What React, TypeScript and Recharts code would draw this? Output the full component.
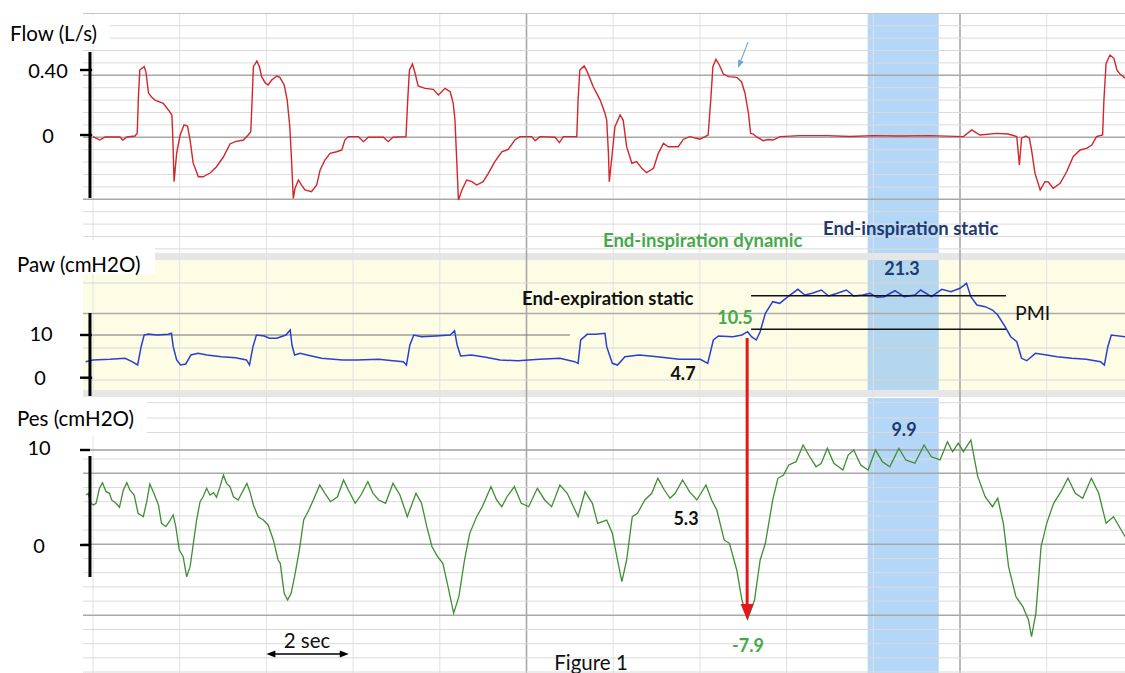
import React from 'react';
import { ComposedChart, Line, XAxis, YAxis, ReferenceLine, ReferenceArea } from 'recharts';

// ---------- layout calibration ----------
const W = 1125;
const H = 673;
const X_ORIGIN = 93; // pixel where t = 0 s
const PX_PER_SEC = 43.35;
const T_MIN = -X_ORIGIN / PX_PER_SEC;
const T_MAX = (W - X_ORIGIN) / PX_PER_SEC;
const tOf = (px: number) => (px - X_ORIGIN) / PX_PER_SEC;

// value -> pixel calibration of each panel (zero line pixel, pixels per unit)
const FLOW_ZERO = 135, FLOW_PX = 162.5;
const PAW_ZERO = 377.7, PAW_PX = 4.27;
const PES_ZERO = 545, PES_PX = 9.5;
const dom = (zero: number, px: number): [number, number] => [(zero - H) / px, zero / px];

// ---------- data: [time s, value] ----------
const flowSamples: [number, number][] = [
  [0.00,-0.010],[0.16,-0.031],[0.28,-0.012],[0.62,-0.012],[0.69,-0.031],[0.78,-0.012],[0.97,-0.006],[1.02,0.012],[1.05,0.246],[1.08,0.400],[1.18,0.420],[1.22,0.390],[1.28,0.258],[1.35,0.234],[1.43,0.215],[1.62,0.195],[1.74,0.154],[1.82,0.123],[1.84,-0.010],[1.87,-0.287],[1.93,-0.111],[2.01,0.000],[2.10,0.062],[2.18,0.055],[2.24,-0.031],[2.31,-0.172],[2.43,-0.257],[2.54,-0.257],[2.70,-0.234],[2.85,-0.195],[3.01,-0.134],[3.16,-0.055],[3.28,-0.041],[3.47,-0.031],[3.58,0.000],[3.64,0.020],[3.67,0.215],[3.70,0.420],[3.78,0.455],[3.84,0.420],[3.89,0.359],[3.97,0.322],[4.04,0.308],[4.12,0.338],[4.24,0.363],[4.31,0.355],[4.41,0.308],[4.48,0.215],[4.54,0.051],[4.58,-0.154],[4.62,-0.390],[4.66,-0.328],[4.74,-0.277],[4.81,-0.308],[4.89,-0.338],[5.04,-0.349],[5.16,-0.308],[5.24,-0.215],[5.35,-0.154],[5.47,-0.113],[5.62,-0.103],[5.74,-0.092],[5.81,-0.031],[5.89,-0.010],[6.12,-0.010],[6.24,-0.041],[6.35,-0.014],[6.70,-0.014],[6.81,-0.041],[6.92,-0.014],[7.22,-0.010],[7.26,0.215],[7.30,0.400],[7.37,0.437],[7.43,0.380],[7.50,0.302],[7.66,0.287],[7.85,0.281],[7.97,0.246],[8.12,0.287],[8.24,0.266],[8.31,0.195],[8.35,0.092],[8.39,-0.154],[8.43,-0.400],[8.51,-0.338],[8.62,-0.277],[8.74,-0.287],[8.85,-0.308],[9.00,-0.287],[9.12,-0.236],[9.27,-0.164],[9.43,-0.103],[9.58,-0.088],[9.73,-0.031],[9.85,-0.010],[10.12,-0.010],[10.20,-0.035],[10.31,-0.010],[10.66,-0.014],[10.76,-0.047],[10.85,-0.010],[11.16,-0.010],[11.19,0.215],[11.23,0.400],[11.33,0.425],[11.40,0.390],[11.54,0.297],[11.70,0.215],[11.81,0.134],[11.85,0.092],[11.89,-0.113],[11.91,-0.287],[11.97,-0.134],[12.04,0.051],[12.16,0.123],[12.23,0.092],[12.31,-0.072],[12.43,-0.174],[12.54,-0.164],[12.66,-0.205],[12.77,-0.232],[12.93,-0.205],[13.04,-0.113],[13.16,-0.051],[13.27,-0.072],[13.50,-0.072],[13.62,-0.026],[13.77,-0.010],[14.00,-0.026],[14.19,0.000],[14.25,0.215],[14.30,0.420],[14.37,0.466],[14.45,0.431],[14.54,0.375],[14.66,0.359],[14.85,0.355],[14.96,0.328],[15.04,0.257],[15.12,0.134],[15.17,0.010],[15.23,0.006],[15.31,-0.012],[15.46,-0.035],[15.57,-0.028],[15.69,-0.031],[15.85,-0.010],[16.31,-0.004],[16.93,-0.004],[17.46,-0.009],[17.99,-0.004],[18.62,-0.006],[19.31,-0.004],[20.08,-0.010],[20.27,0.031],[20.46,0.000],[20.85,0.010],[21.11,0.006],[21.31,-0.010],[21.37,-0.185],[21.42,-0.020],[21.52,-0.006],[21.60,-0.020],[21.65,-0.092],[21.73,-0.236],[21.85,-0.338],[21.96,-0.287],[22.04,-0.289],[22.15,-0.328],[22.31,-0.297],[22.46,-0.226],[22.61,-0.134],[22.77,-0.092],[22.92,-0.082],[23.04,-0.062],[23.15,-0.010],[23.29,0.000],[23.32,0.215],[23.37,0.441],[23.46,0.492],[23.55,0.472],[23.62,0.400],[23.69,0.375],[23.81,0.349],
];

const pawSamples: [number, number][] = [
  [-0.17,3.75],[0.00,4.15],[0.39,4.31],[0.74,4.54],[0.90,3.75],[1.03,2.97],[1.11,7.26],[1.18,10.0],[1.27,10.23],[1.48,10.0],[1.73,10.16],[1.81,10.40],[1.85,7.26],[1.93,4.15],[2.02,2.97],[2.14,3.21],[2.26,5.32],[2.42,5.71],[2.63,5.32],[2.96,4.92],[3.29,4.68],[3.54,4.15],[3.61,2.97],[3.69,7.26],[3.77,10.0],[3.95,9.77],[4.07,9.23],[4.24,9.23],[4.45,10.0],[4.55,11.17],[4.59,7.66],[4.65,5.32],[4.78,5.71],[4.94,5.32],[5.27,4.54],[5.76,4.15],[6.09,4.15],[6.59,4.31],[6.92,3.98],[7.16,3.75],[7.23,2.97],[7.31,7.66],[7.40,10.0],[7.58,9.60],[7.91,9.77],[8.24,10.0],[8.34,11.01],[8.40,7.66],[8.48,5.08],[8.73,5.32],[9.06,4.78],[9.39,4.15],[9.80,3.98],[10.30,4.31],[10.77,4.54],[11.11,3.75],[11.19,3.37],[11.25,8.83],[11.40,10.16],[11.60,10.16],[11.81,10.40],[11.85,7.26],[11.98,3.37],[12.10,2.97],[12.27,4.92],[12.60,5.32],[13.02,4.92],[13.52,4.31],[14.01,4.31],[14.18,3.37],[14.31,8.83],[14.43,9.77],[14.76,9.60],[14.97,10.0],[15.10,10.77],[15.19,9.60],[15.30,8.83],[15.39,10.77],[15.51,15.08],[15.68,17.80],[15.84,17.42],[16.01,18.83],[16.26,20.70],[16.42,19.37],[16.59,19.77],[16.80,20.54],[16.97,19.13],[17.17,19.77],[17.38,20.54],[17.55,19.13],[17.76,19.37],[17.92,19.77],[18.09,18.83],[18.25,18.97],[18.50,20.37],[18.71,18.97],[18.96,19.37],[19.09,20.54],[19.34,18.97],[19.58,20.70],[19.79,20.14],[20.00,20.94],[20.15,22.11],[20.25,18.97],[20.39,17.03],[20.58,16.63],[20.75,15.85],[20.87,14.68],[21.04,11.94],[21.17,9.60],[21.31,8.43],[21.42,4.54],[21.54,3.98],[21.74,5.71],[22.00,5.32],[22.24,4.92],[22.58,4.54],[22.91,4.31],[23.24,3.75],[23.33,2.97],[23.41,7.26],[23.49,10.0],[23.81,9.6],
];

const pesSamples: [number, number][] = [
  [-0.16,5.26],[-0.11,5.44],[-0.05,4.39],[0.01,4.21],[0.07,4.39],[0.15,5.97],[0.22,6.56],[0.30,5.61],[0.38,5.44],[0.43,4.74],[0.53,4.39],[0.61,3.97],[0.70,5.79],[0.78,6.56],[0.85,5.79],[0.95,5.26],[1.04,3.34],[1.16,2.98],[1.24,4.56],[1.31,6.42],[1.39,5.61],[1.51,4.21],[1.58,2.28],[1.68,1.93],[1.76,2.45],[1.85,3.16],[1.91,1.93],[1.99,-0.53],[2.08,-1.23],[2.16,-3.34],[2.24,-2.28],[2.31,0.00],[2.39,2.63],[2.47,4.56],[2.54,5.08],[2.62,5.97],[2.70,5.26],[2.78,5.51],[2.85,5.02],[2.93,6.14],[3.01,7.37],[3.08,6.49],[3.16,6.14],[3.24,5.08],[3.35,4.74],[3.43,5.44],[3.55,6.49],[3.62,5.61],[3.70,4.21],[3.81,2.98],[3.93,2.63],[4.04,2.11],[4.16,0.53],[4.27,-1.58],[4.32,-1.93],[4.41,-5.08],[4.49,-5.79],[4.57,-5.08],[4.65,-3.34],[4.76,-0.53],[4.86,2.63],[4.98,3.68],[5.10,4.92],[5.23,6.32],[5.35,5.44],[5.48,4.56],[5.64,5.08],[5.78,6.84],[5.89,5.79],[6.05,4.39],[6.18,5.26],[6.34,6.66],[6.46,5.44],[6.59,4.74],[6.75,4.39],[6.92,6.49],[7.08,5.26],[7.25,2.98],[7.45,5.44],[7.58,4.39],[7.70,1.93],[7.82,-0.18],[7.95,-1.23],[8.07,-1.93],[8.19,-4.39],[8.32,-7.19],[8.44,-5.44],[8.57,-1.58],[8.69,1.23],[8.85,2.98],[8.98,4.03],[9.18,6.14],[9.31,4.74],[9.43,4.03],[9.55,5.08],[9.72,6.14],[9.88,4.39],[10.05,4.03],[10.25,5.97],[10.42,4.74],[10.58,4.03],[10.77,6.32],[10.94,5.44],[11.19,2.98],[11.35,5.61],[11.52,4.39],[11.64,2.28],[11.85,2.63],[11.98,1.23],[12.10,-1.58],[12.20,-3.86],[12.31,-1.58],[12.44,2.98],[12.56,3.34],[12.73,4.74],[12.89,5.44],[13.03,7.02],[13.18,5.79],[13.31,4.92],[13.43,5.44],[13.60,6.84],[13.76,5.61],[13.93,4.74],[14.14,6.32],[14.27,4.74],[14.39,3.68],[14.56,0.53],[14.68,0.18],[14.85,-2.63],[14.97,-5.79],[15.10,-7.8],[15.26,-5.79],[15.39,-1.58],[15.51,0.18],[15.68,4.74],[15.80,7.02],[15.93,7.37],[16.05,8.42],[16.22,8.77],[16.38,10.53],[16.51,9.47],[16.68,8.24],[16.80,8.60],[16.94,10.18],[17.09,8.60],[17.30,7.89],[17.42,9.47],[17.55,10.00],[17.71,8.42],[17.88,7.89],[18.05,10.00],[18.21,8.77],[18.38,8.24],[18.59,10.18],[18.75,8.95],[18.96,8.60],[19.17,10.53],[19.34,9.29],[19.54,8.95],[19.71,10.87],[19.83,9.82],[19.96,10.71],[20.08,9.82],[20.25,11.05],[20.41,7.19],[20.58,5.08],[20.75,4.03],[20.87,4.92],[21.00,2.28],[21.12,-2.28],[21.29,-5.44],[21.45,-6.49],[21.58,-7.89],[21.65,-9.65],[21.75,-7.19],[21.87,-0.18],[22.00,2.28],[22.16,4.39],[22.33,5.61],[22.49,7.02],[22.66,5.44],[22.83,4.92],[23.03,7.02],[23.20,5.44],[23.37,2.28],[23.54,2.98],[23.81,0.87],
];

// tick values
const flowTicks = [0, 0.4];
const pawTicks = [0, 10];
const pesTicks = [0, 10];
const timeGrid = [0, 2, 4, 6, 8, 10, 12, 14, 16, 18, 20, 22];
const timeGridMajor = [10, 20];

// annotation values
const staticWindow: [number, number] = [17.87, 19.51]; // s, shaded blue band
const pmiTime: [number, number] = [15.18, 21.06];
const pmiLevels = [19.2, 11.33]; // cmH2O
const arrowTime = 15.09;
const pesNadir = -7.9;

// ---------- background sheet rows (pixels) ----------
const SHEET_TOP = 13.5;
const GRID_LEFT = 83;
const flowRowsLight = [25.7, 38.1, 50.5, 62.9, 87.7, 100.1, 112.5, 124.9, 149.7, 162.1, 174.5, 186.9, 211.7, 224.1, 236.5, 248.9];
const flowRowsDark = [75.3, 137.3, 199.3];
const pawRowsLight = [283, 348, 380];
const pawRowsDark = [313.5];
const pesRowsLight = [402.7, 418, 432.5, 459, 487.5, 501.7, 515.9, 530.1, 558.5, 572.7, 586.9, 601.1, 629.5, 643.7, 657.9, 672];
const pesRowsDark = [473.3, 544.3, 615.3];

const toObj = (arr: [number, number][]) => arr.map(([t, v]) => ({ t, v }));
const flowData = toObj(flowSamples);
const pawData = toObj(pawSamples);
const pesData = toObj(pesSamples);

const FONT = "Lato, 'Open Sans', sans-serif";

const makeArrow = (color: string, width: number, headLen: number, headW: number, both = false) => (p: any) => {
  const { x1, y1, x2, y2 } = p;
  const dx = x2 - x1, dy = y2 - y1;
  const len = Math.hypot(dx, dy) || 1;
  const ux = dx / len, uy = dy / len;
  const nx = -uy, ny = ux;
  const head = (tx: number, ty: number, dirx: number, diry: number) => {
    const bx = tx - dirx * headLen, by = ty - diry * headLen;
    return `${tx},${ty} ${bx + nx * headW / 2},${by + ny * headW / 2} ${bx - nx * headW / 2},${by - ny * headW / 2}`;
  };
  const sx = both ? x1 + ux * headLen * 0.8 : x1, sy = both ? y1 + uy * headLen * 0.8 : y1;
  const ex = x2 - ux * headLen * 0.8, ey = y2 - uy * headLen * 0.8;
  return (
    <g>
      <line x1={sx} y1={sy} x2={ex} y2={ey} stroke={color} strokeWidth={width} />
      <polygon points={head(x2, y2, ux, uy)} fill={color} />
      {both && <polygon points={head(x1, y1, -ux, -uy)} fill={color} />}
    </g>
  );
};

const hLine = (key: string, y: number, color: string, w: number, fromPx = GRID_LEFT) => (
  <ReferenceLine key={key} yAxisId="sheet" segment={[{ x: tOf(fromPx), y }, { x: T_MAX, y }]} stroke={color} strokeWidth={w} ifOverflow="visible" />
);

export default function App() {
  const greenTxt = '#45A94A';
  const navyTxt = '#1F3A6E';
  return (
    <div style={{ position: 'absolute', left: 0, top: 0, width: W, height: H, background: '#fff', fontFamily: FONT }}>
      <ComposedChart width={W} height={H} margin={{ top: 0, right: 0, bottom: 0, left: 0 }}>
        <XAxis type="number" dataKey="t" domain={[T_MIN, T_MAX]} allowDataOverflow hide />
        <YAxis yAxisId="sheet" type="number" domain={[0, H]} reversed allowDataOverflow hide />
        <YAxis yAxisId="flow" type="number" domain={dom(FLOW_ZERO, FLOW_PX)} allowDataOverflow hide />
        <YAxis yAxisId="paw" type="number" domain={dom(PAW_ZERO, PAW_PX)} allowDataOverflow hide />
        <YAxis yAxisId="pes" type="number" domain={dom(PES_ZERO, PES_PX)} allowDataOverflow hide />

        {/* panel bands */}
        <ReferenceArea yAxisId="sheet" x1={tOf(GRID_LEFT)} x2={T_MAX} y1={253} y2={260} fill="#E6E6E6" fillOpacity={1} stroke="none" ifOverflow="visible" />
        <ReferenceArea yAxisId="sheet" x1={tOf(GRID_LEFT)} x2={T_MAX} y1={260} y2={390} fill="#FDFDE6" fillOpacity={1} stroke="none" ifOverflow="visible" />
        <ReferenceArea yAxisId="sheet" x1={tOf(GRID_LEFT)} x2={T_MAX} y1={390} y2={397} fill="#E6E6E6" fillOpacity={1} stroke="none" ifOverflow="visible" />

        {/* background sheet grid */}
        {timeGrid.map((t) => (
          <ReferenceLine key={`vg${t}`} yAxisId="sheet" segment={[{ x: t, y: SHEET_TOP }, { x: t, y: H }]}
            stroke={timeGridMajor.includes(t) ? '#A8A8A8' : '#E2E2E2'} strokeWidth={timeGridMajor.includes(t) ? 1.6 : 1} ifOverflow="visible" />
        ))}
        {hLine('top', SHEET_TOP, '#C4C4C4', 1.2)}
        {flowRowsLight.map((y) => hLine(`fl${y}`, y, '#DADADA', 1))}
        {flowRowsDark.map((y) => hLine(`fd${y}`, y, '#A8A8A8', 1.6))}
        {pawRowsLight.map((y) => hLine(`pl${y}`, y, '#D6D6D6', 1))}
        {pawRowsDark.map((y) => hLine(`pd${y}`, y, '#ABABAB', 1.4))}
        {pesRowsLight.map((y) => hLine(`el${y}`, y, '#DADADA', 1))}
        {pesRowsDark.map((y) => hLine(`ed${y}`, y, '#A8A8A8', 1.6))}

        {/* chart's own level lines */}
        <ReferenceLine yAxisId="paw" segment={[{ x: 0, y: 10 }, { x: 11.0, y: 10 }]} stroke="#707070" strokeWidth={1} ifOverflow="visible" />
        <ReferenceLine yAxisId="pes" segment={[{ x: tOf(GRID_LEFT), y: 10 }, { x: T_MAX, y: 10 }]} stroke="#A0A0A0" strokeWidth={1.3} ifOverflow="visible" />

        {/* waveforms */}
        <Line yAxisId="flow" data={flowData} dataKey="v" type="linear" stroke="#D4252A" strokeWidth={1.4} dot={false} activeDot={false} isAnimationActive={false} />
        <Line yAxisId="paw" data={pawData} dataKey="v" type="linear" stroke="#2B3ED2" strokeWidth={1.5} dot={false} activeDot={false} isAnimationActive={false} />
        <Line yAxisId="pes" data={pesData} dataKey="v" type="linear" stroke="#3E8E33" strokeWidth={1.3} dot={false} activeDot={false} isAnimationActive={false} />

        {/* static window band */}
        <ReferenceArea yAxisId="sheet" x1={staticWindow[0]} x2={staticWindow[1]} y1={SHEET_TOP} y2={253} fill="#8EC1F3" fillOpacity={0.65} stroke="none" ifOverflow="visible" />
        <ReferenceArea yAxisId="sheet" x1={staticWindow[0]} x2={staticWindow[1]} y1={260} y2={390} fill="#8EC1F3" fillOpacity={0.65} stroke="none" ifOverflow="visible" />
        <ReferenceArea yAxisId="sheet" x1={staticWindow[0]} x2={staticWindow[1]} y1={398} y2={H} fill="#8EC1F3" fillOpacity={0.65} stroke="none" ifOverflow="visible" />

        {/* axes (black bars + ticks) */}
        <ReferenceLine yAxisId="flow" segment={[{ x: -0.07, y: 0.511 }, { x: -0.07, y: -0.388 }]} stroke="#000" strokeWidth={3} ifOverflow="visible" />
        {flowTicks.map((v) => (
          <ReferenceLine key={`ft${v}`} yAxisId="flow" segment={[{ x: -0.30, y: v }, { x: -0.02, y: v }]} stroke="#000" strokeWidth={2.4} ifOverflow="visible" />
        ))}
        <ReferenceLine yAxisId="paw" segment={[{ x: -0.07, y: 15.15 }, { x: -0.07, y: -4.29 }]} stroke="#000" strokeWidth={3} ifOverflow="visible" />
        {pawTicks.map((v) => (
          <ReferenceLine key={`pt${v}`} yAxisId="paw" segment={[{ x: -0.30, y: v }, { x: -0.02, y: v }]} stroke="#000" strokeWidth={2.4} ifOverflow="visible" />
        ))}
        <ReferenceLine yAxisId="pes" segment={[{ x: -0.07, y: 9.37 }, { x: -0.07, y: -3.37 }]} stroke="#000" strokeWidth={3} ifOverflow="visible" />
        {pesTicks.map((v) => (
          <ReferenceLine key={`et${v}`} yAxisId="pes" segment={[{ x: -0.30, y: v }, { x: -0.07, y: v }]} stroke="#000" strokeWidth={2.4} ifOverflow="visible" />
        ))}

        {/* PMI lines */}
        {pmiLevels.map((v) => (
          <ReferenceLine key={`pmi${v}`} yAxisId="paw" segment={[{ x: pmiTime[0], y: v }, { x: pmiTime[1], y: v }]} stroke="#111" strokeWidth={1.5} ifOverflow="visible" />
        ))}

        {/* arrows */}
        <ReferenceLine yAxisId="pes" segment={[{ x: arrowTime, y: 21.8 }, { x: arrowTime, y: pesNadir }]} ifOverflow="visible"
          shape={makeArrow('#E3181D', 3, 16, 13)} />
        <ReferenceLine yAxisId="flow" segment={[{ x: 15.11, y: 0.572 }, { x: 14.88, y: 0.412 }]} ifOverflow="visible"
          shape={makeArrow('#6FA6DB', 1.1, 8, 6)} />
        <ReferenceLine yAxisId="pes" segment={[{ x: 4.0, y: -11.47 }, { x: 5.9, y: -11.47 }]} ifOverflow="visible"
          shape={makeArrow('#000', 1.5, 9, 7, true)} />
      </ComposedChart>

      <svg width={W} height={H} style={{ position: 'absolute', left: 0, top: 0, pointerEvents: 'none' }} fontFamily={FONT}>
        {/* label boxes */}
        <rect x={0} y={15} width={110} height={31} fill="#fff" />
        <rect x={0} y={240} width={155} height={34} fill="#fff" />
        <rect x={0} y={398} width={147} height={38} fill="#fff" />

        <g fontSize={20.5} fill="#000" dominantBaseline="central">
          <text x={10} y={33}>Flow (L/s)</text>
          <text x={17} y={264}>Paw (cmH2O)</text>
          <text x={17} y={418}>Pes (cmH2O)</text>
        </g>
        <g fontSize={20} fill="#000" dominantBaseline="central" textAnchor="middle">
          <text x={48} y={70}>0.40</text>
          <text x={48} y={135}>0</text>
          <text x={41} y={333}>10</text>
          <text x={40} y={377}>0</text>
          <text x={39} y={447}>10</text>
          <text x={39} y={545}>0</text>
        </g>

        <g fontWeight={700} fontSize={18.5} dominantBaseline="central">
          <text x={603} y={240} fill={greenTxt}>End-inspiration dynamic</text>
          <text x={823} y={228} fill={navyTxt}>End-inspiration static</text>
          <text x={522} y={298} fill="#111">End-expiration static</text>
        </g>
        <g fontWeight={700} fontSize={18} dominantBaseline="central" textAnchor="middle">
          <text x={902} y={268} fill={navyTxt}>21.3</text>
          <text x={735} y={317} fill={greenTxt}>10.5</text>
          <text x={683} y={373} fill="#111">4.7</text>
          <text x={904} y={429} fill={navyTxt}>9.9</text>
          <text x={686} y={518} fill="#111">5.3</text>
          <text x={748} y={645} fill={greenTxt}>-7.9</text>
        </g>
        <g fill="#111" dominantBaseline="central">
          <text x={1015} y={312} fontSize={19.5}>PMI</text>
          <text x={591} y={662} textAnchor="middle" fontSize={20.5}>Figure 1</text>
          <text x={307} y={640} textAnchor="middle" fontSize={20.5}>2 sec</text>
        </g>
      </svg>
    </div>
  );
}
